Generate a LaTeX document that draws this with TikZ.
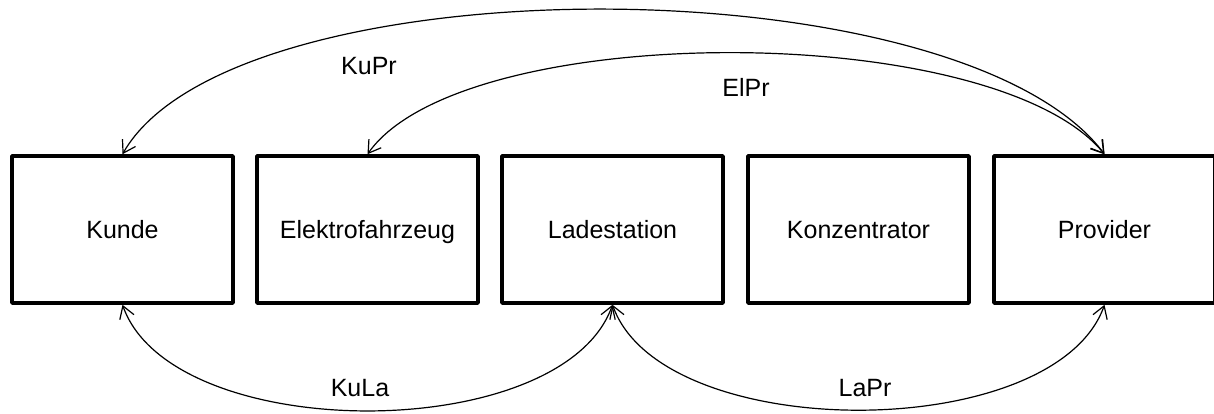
\documentclass[tikz,border=0pt]{standalone}
\usepackage{fontspec}
\setmainfont{Liberation Sans}
\usetikzlibrary{arrows.meta}
\begin{document}
\begin{tikzpicture}[x=1pt,y=-1pt,
  box/.style={draw, line width=3.6pt, line join=round, minimum width=221pt, minimum height=147pt,
    inner sep=0pt, text height=18pt, text depth=0pt, font=\fontsize{25}{30}\selectfont},
  conn/.style={line width=1.2pt, {Straight Barb[length=12pt,width=15pt]}-{Straight Barb[length=12pt,width=15pt]}},
  lbl/.style={font=\fontsize{25}{30}\selectfont, inner sep=0pt}]
\useasboundingbox (0,0) rectangle (1214,414);
\clip (0,0) rectangle (1214,414);
\node[box] (kun) at (122.5,229.5) {Kunde};
\node[box] (ele) at (367.5,229.5) {Elektrofahrzeug};
\node[box] (lad) at (612.5,229.5) {Ladestation};
\node[box] (kon) at (858.5,229.5) {Konzentrator};
\node[box] (pro) at (1104.5,229.5) {Provider};
\draw[conn] (pro.north) .. controls +(-146,-193) and +(110,-193) .. (kun.north);
\draw[conn] (pro.north) .. controls +(-111,-135) and +(95,-135) .. (ele.north);
\draw[conn] (lad.south) .. controls +(-50,141) and +(50,141) .. (kun.south);
\draw[conn] (lad.south) .. controls +(50,140) and +(-50,140) .. (pro.south);
\node[lbl] (lkupr) at (369,66) {KuPr};
\node[lbl] (lelpr) at (746,87) {ElPr};
\node[lbl] (lkula) at (360,388) {KuLa};
\node[lbl] (llapr) at (865,388) {LaPr};
\end{tikzpicture}
\end{document}
